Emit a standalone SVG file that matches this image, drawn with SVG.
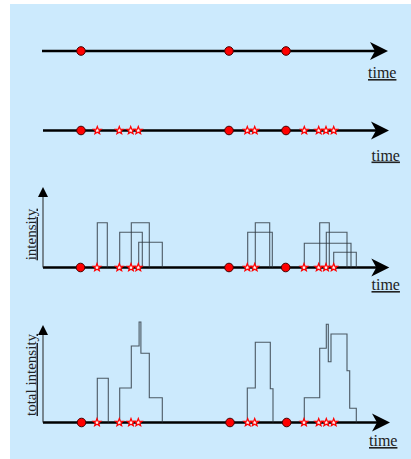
<svg xmlns="http://www.w3.org/2000/svg" xmlns:xlink="http://www.w3.org/1999/xlink" width="411" height="459" viewBox="0 0 411 459">
<style>
.bg{fill:#cceafd}
.axis{stroke:#000;stroke-width:2.5;fill:none}
.yaxis{stroke:#222;stroke-width:1;fill:none}
.head{fill:#000}
.dot{fill:#f00;stroke:#400;stroke-width:1}
.star{fill:#fff0f0;stroke:#f00;stroke-width:1.2;stroke-linejoin:miter}
.box{fill:none;stroke:#2b353c;stroke-opacity:0.8;stroke-width:1.1}
.lbl{font-family:"Liberation Serif","Times New Roman",serif;font-weight:normal;font-size:16px;fill:#222;text-decoration:underline}
.ylbl{font-family:"Liberation Serif","Times New Roman",serif;font-weight:normal;font-size:15px;fill:#222;text-decoration:underline}
</style>
<defs>
<path id="st" class="star" d="M0,-4 L1,-1.375 L3.8,-1.24 L1.617,0.525 L2.35,3.24 L0,1.7 L-2.35,3.24 L-1.617,0.525 L-3.8,-1.24 L-1,-1.375 Z"/>
<path id="ah" class="head" d="M0,0 L-18,-9 L-13,0 L-18,9 Z"/>
<path id="yh" class="head" d="M0,0 L5,10 L-5,10 Z"/>
</defs>
<rect class="bg" x="10" y="4" width="401" height="455"/>

<g id="connectors">
  <line class="axis" x1="42" y1="51" x2="378" y2="51"/>
  <use xlink:href="#ah" x="388" y="51"/>
  <line class="axis" x1="43" y1="130.5" x2="379" y2="130.5"/>
  <use xlink:href="#ah" x="389" y="130.5"/>
  <line class="axis" x1="43" y1="267.5" x2="379" y2="267.5"/>
  <use xlink:href="#ah" x="389.3" y="267.5"/>
  <line class="yaxis" x1="43" y1="267.5" x2="43" y2="195"/>
  <use xlink:href="#yh" x="43" y="187"/>
  <line class="axis" x1="43" y1="422.5" x2="380" y2="422.5"/>
  <use xlink:href="#ah" x="390" y="422.5"/>
  <line class="yaxis" x1="43" y1="422.5" x2="43" y2="333"/>
  <use xlink:href="#yh" x="43" y="325"/>
</g>

<g id="panel1">
  <circle class="dot" cx="81" cy="51" r="4.3"/>
  <circle class="dot" cx="229" cy="51" r="4.3"/>
  <circle class="dot" cx="286" cy="51" r="4.3"/>
  <text class="lbl" x="368" y="78">time</text>
</g>

<g id="panel2">
  <circle class="dot" cx="81" cy="130.5" r="4.3"/>
  <circle class="dot" cx="229" cy="130.5" r="4.3"/>
  <circle class="dot" cx="286" cy="130.5" r="4.3"/>
  <use xlink:href="#st" x="97.3" y="130.5"/>
  <use xlink:href="#st" x="119.3" y="130.5"/>
  <use xlink:href="#st" x="130.7" y="130.5"/>
  <use xlink:href="#st" x="138.3" y="130.5"/>
  <use xlink:href="#st" x="247.3" y="130.5"/>
  <use xlink:href="#st" x="254.7" y="130.5"/>
  <use xlink:href="#st" x="304.3" y="130.5"/>
  <use xlink:href="#st" x="318.7" y="130.5"/>
  <use xlink:href="#st" x="326" y="130.5"/>
  <use xlink:href="#st" x="333.7" y="130.5"/>
  <text class="lbl" x="371.5" y="160.5">time</text>
</g>

<g id="panel3">
  <path class="box" d="M97.3,267.5 V222.7 H107.3 V267.5"/>
  <path class="box" d="M119.7,267.5 V232.3 H142.3 V267.5"/>
  <path class="box" d="M131.3,267.5 V222.7 H149.3 V267.5"/>
  <path class="box" d="M138.7,267.5 V242.3 H162.3 V267.5"/>
  <path class="box" d="M247.7,267.5 V232.3 H272.3 V267.5"/>
  <path class="box" d="M255.3,267.5 V222.7 H269.7 V267.5"/>
  <path class="box" d="M304.3,267.5 V243.3 H351 V267.5"/>
  <path class="box" d="M319.7,267.5 V222.7 H329.3 V267.5"/>
  <path class="box" d="M326.3,267.5 V232.3 H347 V267.5"/>
  <path class="box" d="M333.7,267.5 V252.3 H356.3 V267.5"/>
  <circle class="dot" cx="80.5" cy="267.5" r="4.3"/>
  <circle class="dot" cx="229" cy="267.5" r="4.3"/>
  <circle class="dot" cx="285.7" cy="267.5" r="4.3"/>
  <use xlink:href="#st" x="97" y="267.5"/>
  <use xlink:href="#st" x="119.3" y="267.5"/>
  <use xlink:href="#st" x="131" y="267.5"/>
  <use xlink:href="#st" x="138.3" y="267.5"/>
  <use xlink:href="#st" x="247.3" y="267.5"/>
  <use xlink:href="#st" x="254.7" y="267.5"/>
  <use xlink:href="#st" x="304" y="267.5"/>
  <use xlink:href="#st" x="318.7" y="267.5"/>
  <use xlink:href="#st" x="326" y="267.5"/>
  <use xlink:href="#st" x="333.7" y="267.5"/>
  <text class="ylbl" transform="translate(35.5,234.5) rotate(-90)" text-anchor="middle">intensity</text>
  <text class="lbl" x="371.5" y="290">time</text>
</g>

<g id="panel4">
  <path class="box" d="M97.3,422.5 V378.3 H108.3 V422.5"/>
  <path class="box" d="M119.7,422.5 V388 H131.3 V346 H139.1 V322 H140.9 V353.3 H149.3 V397.7 H162.3 V422.5"/>
  <path class="box" d="M247.3,422.5 V388 H255.3 V342.3 H270.3 V388.7 H273 V422.5"/>
  <path class="box" d="M304.3,422.5 V397.7 H319.7 V348.3 H326.3 V324.3 H328.3 V361.7 H331 V334 H347 V370.7 H349.7 V408.3 H356.3 V422.5"/>
  <circle class="dot" cx="81.5" cy="422.5" r="4.3"/>
  <circle class="dot" cx="230" cy="422.5" r="4.3"/>
  <circle class="dot" cx="286.7" cy="422.5" r="4.3"/>
  <use xlink:href="#st" x="97" y="422.5"/>
  <use xlink:href="#st" x="119.3" y="422.5"/>
  <use xlink:href="#st" x="131" y="422.5"/>
  <use xlink:href="#st" x="138.3" y="422.5"/>
  <use xlink:href="#st" x="247.7" y="422.5"/>
  <use xlink:href="#st" x="254.7" y="422.5"/>
  <use xlink:href="#st" x="304" y="422.5"/>
  <use xlink:href="#st" x="318.7" y="422.5"/>
  <use xlink:href="#st" x="326.3" y="422.5"/>
  <use xlink:href="#st" x="333.7" y="422.5"/>
  <text class="ylbl" transform="translate(35.5,375) rotate(-90)" text-anchor="middle">total intensity</text>
  <text class="lbl" x="369" y="446">time</text>
</g>
</svg>
